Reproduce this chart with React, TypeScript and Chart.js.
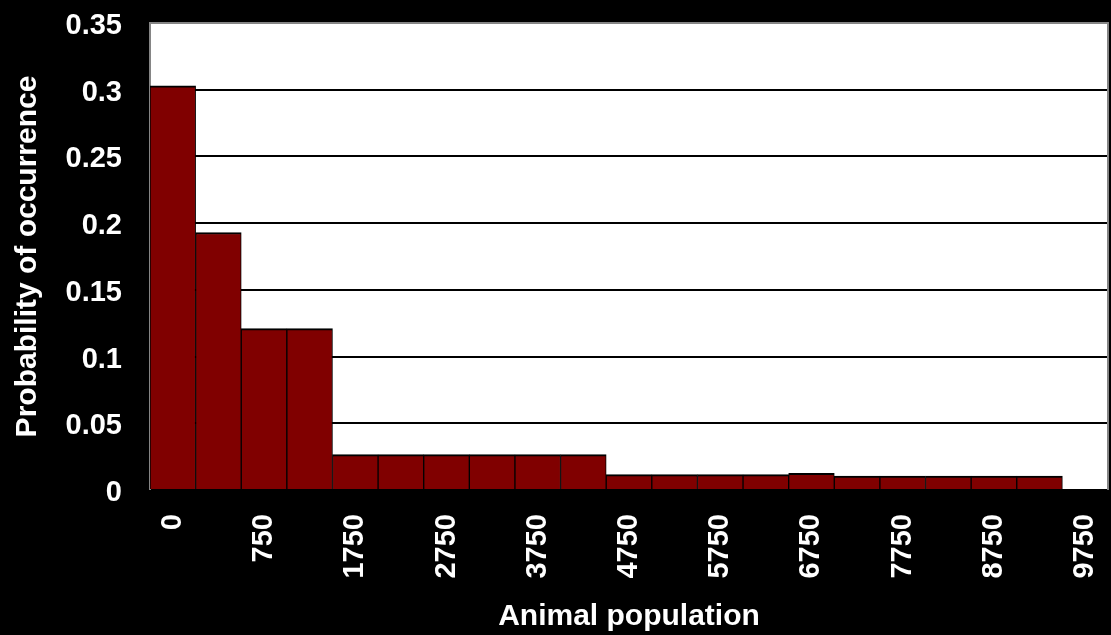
import React, { useEffect, useRef } from "react";
import { Chart, registerables } from "chart.js";

Chart.register(...registerables);

// Population classes (bin labels) along the horizontal axis
const categories: string[] = [
  "0", "250", "750", "1250", "1750", "2250", "2750", "3250", "3750", "4250",
  "4750", "5250", "5750", "6250", "6750", "7250", "7750", "8250", "8750", "9250", "9750",
];

// Probability of occurrence for each class
const probabilities: (number | null)[] = [
  0.303, 0.193, 0.121, 0.121,
  0.0265, 0.0265, 0.0265, 0.0265, 0.0265, 0.0265,
  0.0115, 0.0115, 0.0115, 0.0115, 0.0125,
  0.0105, 0.0105, 0.0105, 0.0105, 0.0105,
  null,
];

// Value-axis ticks
const yTicks: number[] = [0, 0.05, 0.1, 0.15, 0.2, 0.25, 0.3, 0.35];

const FONT = "'Liberation Sans', Arial, Helvetica, sans-serif";

// Keep the scales from reserving extra room for overhanging tick labels
const noOverhang = (scale: any) => {
  scale.paddingTop = 0;
  scale.paddingBottom = 0;
  scale.paddingLeft = 0;
  scale.paddingRight = 0;
};

const plotFrame = {
  id: "plotFrame",
  beforeDraw(chart: any) {
    const { ctx, chartArea, width, height } = chart;
    ctx.save();
    ctx.fillStyle = "#000";
    ctx.fillRect(0, 0, width, height);
    ctx.fillStyle = "#fff";
    ctx.fillRect(chartArea.left, chartArea.top, chartArea.right - chartArea.left, chartArea.bottom - chartArea.top);
    ctx.restore();
  },
  beforeDatasetsDraw(chart: any) {
    const { ctx, chartArea } = chart;
    const { left, top, right, bottom } = chartArea;
    ctx.save();
    ctx.strokeStyle = "#858585";
    ctx.lineWidth = 2;
    ctx.beginPath();
    ctx.moveTo(left, bottom);
    ctx.lineTo(left, top);
    ctx.lineTo(right, top);
    ctx.lineTo(right, bottom);
    ctx.stroke();
    ctx.restore();
  },
};

export default function App() {
  const canvasRef = useRef<HTMLCanvasElement | null>(null);

  useEffect(() => {
    const canvas = canvasRef.current;
    if (!canvas) return;
    const chart = new Chart(canvas, {
      type: "bar",
      data: {
        labels: categories,
        datasets: [
          {
            data: probabilities,
            backgroundColor: "#800000",
            borderColor: "#000",
            borderWidth: { top: 2, left: 1, right: 1, bottom: 0 },
            borderSkipped: false,
            categoryPercentage: 1,
            barPercentage: 1,
          },
        ],
      },
      options: {
        responsive: false,
        animation: false,
        devicePixelRatio: 1,
        layout: { padding: { left: 0, top: 23, right: 3, bottom: 0 } },
        plugins: {
          legend: { display: false },
          tooltip: { enabled: false },
        },
        scales: {
          x: {
            grid: { display: false, drawTicks: false },
            border: { display: false },
            afterFit: (scale: any) => {
              scale.height = 145;
              noOverhang(scale);
            },
            ticks: {
              autoSkip: false,
              maxRotation: 90,
              minRotation: 90,
              padding: 24,
              color: "#fff",
              font: { family: FONT, size: 29, weight: "bold" },
              callback: (_v: any, i: number) => (i % 2 === 0 ? categories[i] : ""),
            },
            title: {
              display: true,
              text: "Animal population",
              color: "#fff",
              font: { family: FONT, size: 30, weight: "bold" },
              padding: { top: 0, bottom: 0 },
            },
          },
          y: {
            min: yTicks[0],
            max: yTicks[yTicks.length - 1],
            afterFit: (scale: any) => {
              scale.width = 150;
              noOverhang(scale);
            },
            afterBuildTicks: (scale: any) => {
              scale.ticks = yTicks.map((v) => ({ value: v }));
            },
            grid: {
              drawTicks: false,
              lineWidth: 2,
              color: (c: any) => (c.tick && c.tick.value >= 0.349 ? "rgba(0,0,0,0)" : "#000"),
            },
            border: { display: false },
            ticks: {
              padding: 28,
              labelOffset: 3,
              color: "#fff",
              font: { family: FONT, size: 29, weight: "bold" },
              callback: (v: any) => String(Math.round(Number(v) * 100) / 100),
            },
            title: {
              display: true,
              text: "Probability of occurrence",
              color: "#fff",
              font: { family: FONT, size: 30, weight: "bold" },
              padding: { top: 10, bottom: 0 },
            },
          },
        },
      },
      plugins: [plotFrame],
    });
    return () => chart.destroy();
  }, []);

  return (
    <div style={{ position: "fixed", left: 0, top: 0, width: 1111, height: 635, background: "#000" }}>
      <canvas ref={canvasRef} width={1111} height={635} style={{ display: "block" }} />
    </div>
  );
}
